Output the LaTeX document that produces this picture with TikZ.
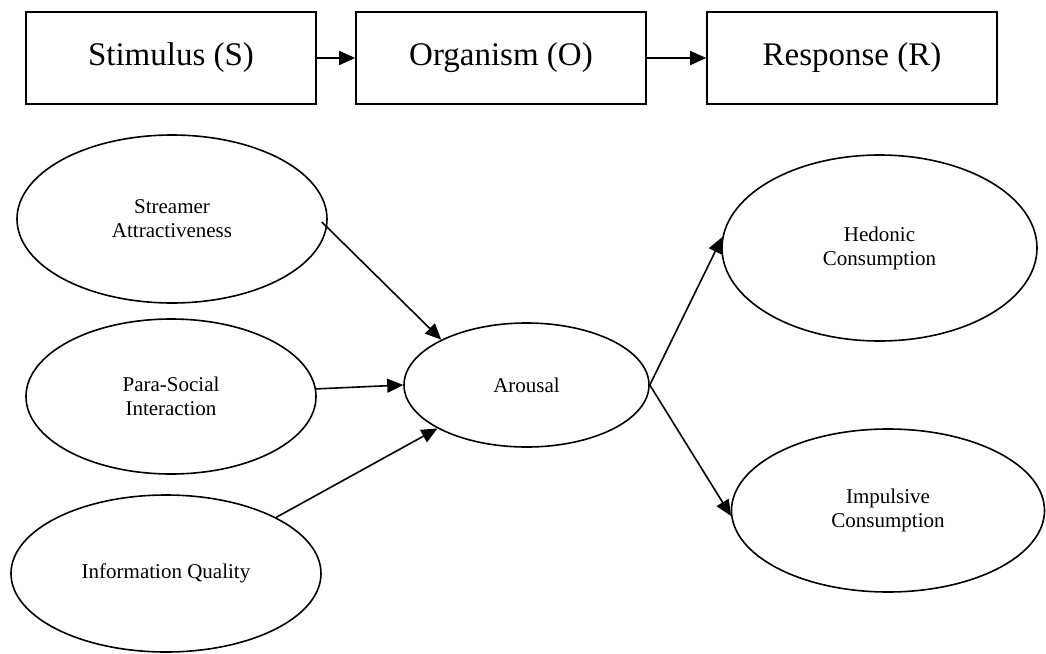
\documentclass[tikz,border=0pt]{standalone}
\usepackage{fontspec}
\setmainfont{Liberation Serif}
\usetikzlibrary{shapes.geometric,arrows.meta}
\begin{document}
\begin{tikzpicture}[x=1pt,y=-1pt,
  stagebox/.style={draw, line width=1.6pt, minimum width=290pt, minimum height=92pt, inner sep=0pt, font=\fontsize{33}{38}\selectfont},
  construct/.style={draw, ellipse, line width=1.6pt, inner sep=0pt, align=center, font=\fontsize{21}{24}\selectfont},
  link/.style={line width=1.6pt, -{Triangle[length=16pt,width=14pt]}}]
\useasboundingbox (0,0) rectangle (1046,653);
% top row
\node[stagebox] (S) at (171,58) {Stimulus (S)};
\node[stagebox] (O) at (501,58) {Organism (O)};
\node[stagebox] (R) at (852,58) {Response (R)};
\draw[link] (S.east) -- (O.west);
\draw[link] (O.east) -- (R.west);
% constructs
\node[construct, minimum width=310pt, minimum height=168pt] (sa) at (172,219) {Streamer\\Attractiveness};
\node[construct, minimum width=290pt, minimum height=155pt] (psi) at (171,396.5) {Para-Social\\Interaction};
\node[construct, minimum width=310pt, minimum height=157pt] (iq) at (166,573.5) {Information Quality};
\node[construct, minimum width=245pt, minimum height=124pt] (ar) at (526.5,385) {Arousal};
\node[construct, minimum width=315pt, minimum height=186pt] (hc) at (879.5,248) {Hedonic\\Consumption};
\node[construct, minimum width=313pt, minimum height=163pt] (ic) at (888,510.5) {Impulsive\\Consumption};
\coordinate (saout) at ([shift={(-6,3)}]sa.east);
\draw[link] (saout) -- (ar.152.8);
\draw[link] (psi.3) -- (ar.180);
\draw[link] (iq.27) -- (ar.206.9);
\draw[link] (ar.east) -- (hc.176);
\draw[link] (ar.east) -- (ic.182.3);
\end{tikzpicture}
\end{document}
